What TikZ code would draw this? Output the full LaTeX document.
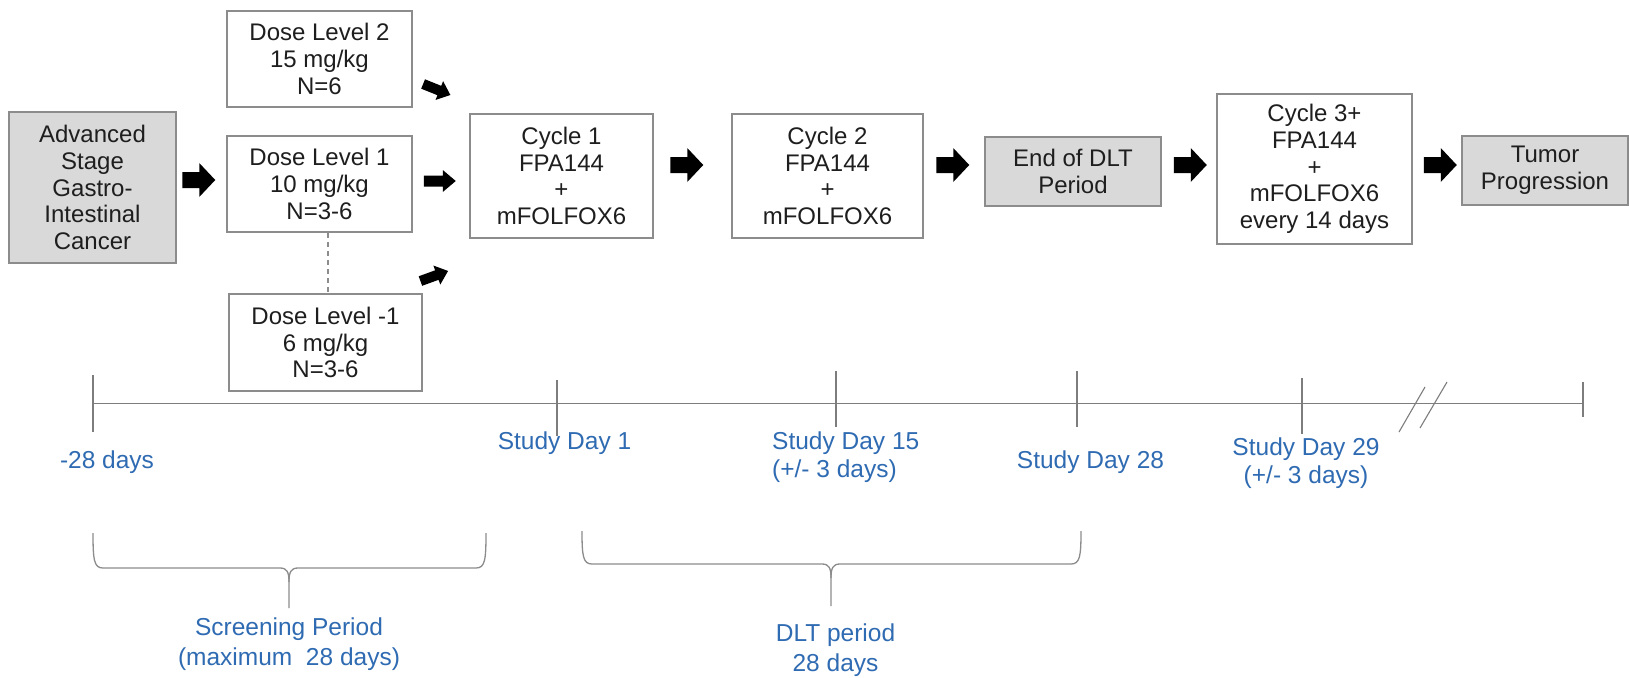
\documentclass[tikz,border=0pt]{standalone}
\usepackage{fontspec}
\setmainfont{Liberation Sans}
\usetikzlibrary{calc}
\definecolor{boxgray}{RGB}{217,217,217}
\definecolor{edgegray}{RGB}{140,140,140}
\definecolor{linegray}{RGB}{125,125,125}
\definecolor{tblue}{RGB}{47,107,178}
\definecolor{tblack}{RGB}{30,30,30}
\begin{document}
\begin{tikzpicture}[x=1pt,y=-1pt,
  box/.style={draw=edgegray, line width=1.5pt, fill=white, align=center, inner sep=0pt, text=tblack, font=\fontsize{24}{26.7}\selectfont},
  graybox/.style={box, fill=boxgray},
  lbl/.style={text=tblue, align=center, inner sep=0pt, font=\fontsize{24.5}{28}\selectfont},
  plbl/.style={lbl, font=\fontsize{24.5}{29.5}\selectfont},
  bigarr/.pic={\fill[black] (-16.5,-8) -- (0.5,-8) -- (0.5,-17) -- (16.5,0) -- (0.5,17) -- (0.5,8) -- (-16.5,8) -- cycle;},
  smallarr/.pic={\fill[black] (-16,-5.5) -- (3,-5.5) -- (3,-11) -- (16,0) -- (3,11) -- (3,5.5) -- (-16,5.5) -- cycle;},
  tl/.style={draw=linegray, line width=1.3pt},
  bracepath/.style={draw=edgegray, line width=1.3pt}
]
\fill[white] (0,0) rectangle (1629,677);
\useasboundingbox (0,0) rectangle (1629,677);

% boxes
\node[graybox, minimum width=167, minimum height=151] (adv) at (92.5,187.5) {Advanced\\Stage\\Gastro-\\Intestinal\\Cancer};
\node[box, minimum width=185, minimum height=96] (d2) at (319.5,59) {Dose Level 2\\15 mg/kg\\N=6};
\node[box, minimum width=185, minimum height=96] (d1) at (319.5,184) {Dose Level 1\\10 mg/kg\\N=3-6};
\node[box, minimum width=193, minimum height=97] (dm1) at (325.5,342.5) {Dose Level -1\\6 mg/kg\\N=3-6};
\node[box, minimum width=183, minimum height=124] (c1) at (561.5,176) {Cycle 1\\FPA144\\+\\mFOLFOX6};
\node[box, minimum width=191, minimum height=124] (c2) at (827.5,176) {Cycle 2\\FPA144\\+\\mFOLFOX6};
\node[graybox, minimum width=176, minimum height=69] (eod) at (1073,171.5) {End of DLT\\Period};
\node[box, minimum width=195, minimum height=150] (c3) at (1314.5,169) {Cycle 3+\\FPA144\\+\\mFOLFOX6\\every 14 days};
\node[graybox, minimum width=166, minimum height=69] (tum) at (1545,170.5) {Tumor\\Progression};

% dashed link between dose levels
\draw[draw=edgegray, line width=1.2pt, dash pattern=on 5pt off 4pt] ($(d1.south)+(8.5,0)$) coordinate (ds) -- (ds |- dm1.north);

% block arrows
\pic at ($(adv.east |- 0,180)+(22,0)$) {bigarr};
\pic at ($(d1.east |- 0,181)+(27,0)$) {smallarr};
\pic[rotate=-22, scale=0.92] at ($(d2.east |- 0,89.5)+(24,0)$) {smallarr};
\pic[rotate=20, scale=0.92] at ($(dm1.east |- 0,276)+(11.5,0)$) {smallarr};
\pic at ($(c1.east |- 0,165)+(33,0)$) {bigarr};
\pic at ($(c2.east |- 0,165)+(29,0)$) {bigarr};
\pic at ($(eod.east |- 0,165)+(28.5,0)$) {bigarr};
\pic at ($(c3.east |- 0,165)+(27.5,0)$) {bigarr};

% timeline
\draw[tl] (93,403.5) -- (1583,403.5);
\draw[tl] (93,375) -- (93,432);
\draw[tl] (557,380) -- (557,436);
\draw[tl] (836,371) -- (836,427);
\draw[tl] (1077,371) -- (1077,427);
\draw[tl] (1302,378) -- (1302,434);
\draw[tl] (1583,382) -- (1583,417);
\draw[tl, line width=1.1pt] (1399,432) -- (1425,387);
\draw[tl, line width=1.1pt] (1420,428) -- (1447,382);

% timeline labels
\node[lbl] (lm28) at (107,462) {-28 days};
\node[lbl] (ld1) at (564.5,443) {Study Day 1};
\node[lbl, align=left, anchor=west] (ld15) at (772,457.5) {Study Day 15\\(+/- 3 days)};
\node[lbl] (ld28) at (1090.5,462) {Study Day 28};
\node[lbl] (ld29) at (1306,463.5) {Study Day 29\\(+/- 3 days)};

% braces
\draw[bracepath] (93,533) .. controls (93,560) and (94,568) .. (103,568) -- (280,568) .. controls (287,568) and (289,572) .. (289,582) -- (289,608);
\draw[bracepath] (289,582) .. controls (289,572) and (291,568) .. (298,568) -- (476,568) .. controls (485,568) and (486,560) .. (486,533);
\draw[bracepath] (582,531) .. controls (582,556) and (583,564) .. (592,564) -- (822,564) .. controls (829,564) and (831,568) .. (831,578) -- (831,606);
\draw[bracepath] (831,578) .. controls (831,568) and (833,564) .. (840,564) -- (1071,564) .. controls (1080,564) and (1081,556) .. (1081,531);

\node[plbl] (lscr) at (289,644) {Screening Period\\(maximum\ \ 28 days)};
\node[plbl] (ldlt) at (835.5,650) {DLT period\\28 days};
\end{tikzpicture}
\end{document}
